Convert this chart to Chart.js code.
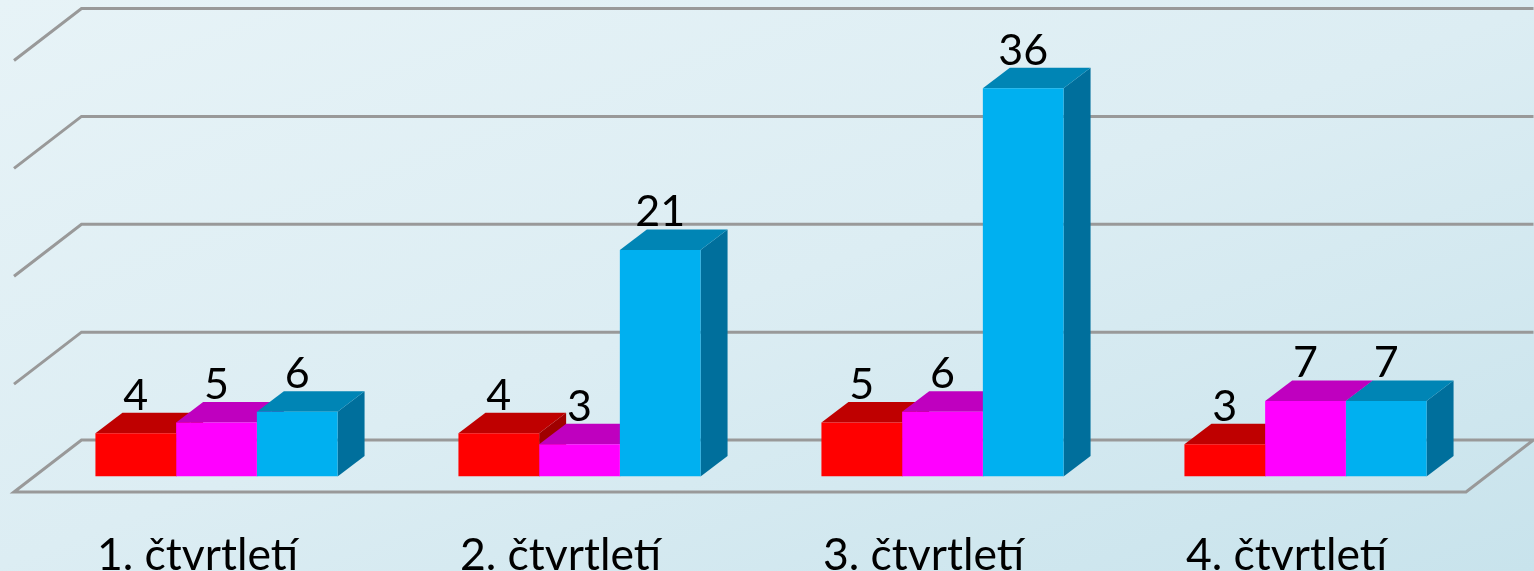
<!DOCTYPE html>
<html>
<head>
<meta charset="utf-8">
<style>
html,body{margin:0;padding:0;width:1534px;height:571px;overflow:hidden;background:linear-gradient(160deg,#e7f3f7 0%,#dcedf3 50%,#c8e3ec 100%);}
canvas{display:block;}
</style>
<script src="https://cdn.jsdelivr.net/npm/chart.js@4/dist/chart.umd.min.js"></script>
</head>
<body>
<canvas id="c" width="1534" height="571"></canvas>
<script>
const categories = ["1. čtvrtletí","2. čtvrtletí","3. čtvrtletí","4. čtvrtletí"];
const redValues = [4,4,5,3];
const magentaValues = [5,3,6,7];
const blueValues = [6,21,36,7];
const gridValues = [0,10,20,30,40];
const colors = {
  red:{front:"#ff0000",top:"#bf0000",side:"#a00000"},
  magenta:{front:"#ff00ff",top:"#bf00bf",side:"#a000a0"},
  blue:{front:"#00b0f0",top:"#0085b5",side:"#006f9c"}
};
const FONT = 'Lato, "Noto Sans", sans-serif';
const barDepth = {x:27,y:-20.5};
const backOffset = {x:46.5,y:-36.5};
const frontOffset = {x:-21,y:15.5};

const threeD = {
  id:"threeD",
  beforeDatasetsDraw(chart){
    const {ctx,chartArea:a,scales:{y}} = chart;
    ctx.save();
    ctx.strokeStyle="#999999";
    ctx.lineWidth=3;
    ctx.lineJoin="miter";
    gridValues.forEach(v=>{
      const py=y.getPixelForValue(v);
      ctx.beginPath();
      ctx.moveTo(a.left+frontOffset.x,py+frontOffset.y);
      ctx.lineTo(a.left+backOffset.x,py+backOffset.y);
      ctx.lineTo(a.right+backOffset.x,py+backOffset.y);
      if(v===0){
        ctx.lineTo(a.right+frontOffset.x,py+frontOffset.y);
        ctx.closePath();
      }
      ctx.stroke();
    });
    const d = barDepth;
    chart.data.datasets.forEach((ds,i)=>{
      const c = ds.faces;
      chart.getDatasetMeta(i).data.forEach(el=>{
        const p = el.getProps(["x","y","base","width"],true);
        const l=p.x-p.width/2, r=p.x+p.width/2;
        ctx.fillStyle=c.side;
        ctx.beginPath();
        ctx.moveTo(r,p.y);ctx.lineTo(r+d.x,p.y+d.y);ctx.lineTo(r+d.x,p.base+d.y);ctx.lineTo(r,p.base);
        ctx.closePath();ctx.fill();
        ctx.fillStyle=c.top;
        ctx.beginPath();
        ctx.moveTo(l,p.y);ctx.lineTo(l+d.x,p.y+d.y);ctx.lineTo(r+d.x,p.y+d.y);ctx.lineTo(r,p.y);
        ctx.closePath();ctx.fill();
      });
    });
    ctx.restore();
  },
  afterDatasetsDraw(chart){
    const {ctx} = chart;
    ctx.save();
    ctx.fillStyle="#000";
    ctx.font='43px '+FONT;
    ctx.textAlign="center";
    ctx.textBaseline="middle";
    chart.data.datasets.forEach((ds,i)=>{
      chart.getDatasetMeta(i).data.forEach((el,j)=>{
        const p = el.getProps(["x","y"],true);
        ctx.fillText(String(ds.data[j]),p.x,p.y-37.5);
      });
    });
    ctx.restore();
  }
};

new Chart(document.getElementById("c"),{
  type:"bar",
  data:{
    labels:categories,
    datasets:[
      {label:"Red",data:redValues,backgroundColor:colors.red.front,faces:colors.red},
      {label:"Magenta",data:magentaValues,backgroundColor:colors.magenta.front,faces:colors.magenta},
      {label:"Blue",data:blueValues,backgroundColor:colors.blue.front,faces:colors.blue}
    ]
  },
  options:{
    responsive:false,
    animation:false,
    events:[],
    layout:{padding:{left:35,right:47,top:45,bottom:0}},
    datasets:{bar:{categoryPercentage:0.667,barPercentage:1,borderWidth:0}},
    plugins:{legend:{display:false},title:{display:false},tooltip:{enabled:false}},
    scales:{
      y:{display:false,min:0,max:40},
      x:{
        afterFit(s){s.height=94.5;},
        grid:{display:false},
        border:{display:false},
        ticks:{
          color:"#000",
          font:{family:FONT,size:44.5},
          padding:44,
          labelOffset:-19,
          maxRotation:0,
          autoSkip:false
        }
      }
    }
  },
  plugins:[threeD]
});
</script>
</body>
</html>
